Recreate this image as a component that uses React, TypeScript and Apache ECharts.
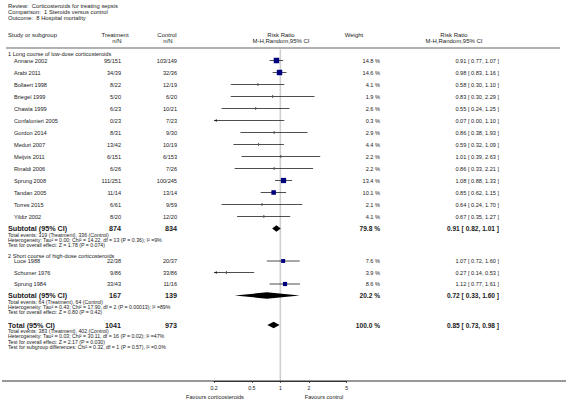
import React, { useEffect, useRef } from "react";
import * as echarts from "echarts";

// ---------- DATA ----------
const titleLines = [
  "Review:  Corticosteroids for treating sepsis",
  "Comparison:  1 Steroids versus control",
  "Outcome:  8 Hospital mortality",
];

const group1Title = "1 Long course of low-dose corticosteroids";
const group1Studies = [
  "Annane 2002", "Arabi 2011", "Bollaert 1998", "Briegel 1999", "Chawla 1999",
  "Confalonieri 2005", "Gordon 2014", "Meduri 2007", "Meijvis 2011", "Rinaldi 2006",
  "Sprung 2008", "Tandan 2005", "Torres 2015", "Yildiz 2002",
];
const group1Treatment = ["95/151", "34/39", "8/22", "5/20", "6/23", "0/23", "8/31", "13/42", "6/151", "6/26", "111/251", "11/14", "6/61", "8/20"];
const group1Control = ["103/149", "32/36", "12/19", "6/20", "10/21", "7/23", "9/30", "10/19", "6/153", "7/26", "100/245", "13/14", "9/59", "12/20"];
const group1Weight = [14.8, 14.6, 4.1, 1.9, 2.6, 0.3, 2.9, 4.4, 2.2, 2.2, 13.4, 10.1, 2.1, 4.1];
const group1RR = [0.91, 0.98, 0.58, 0.83, 0.55, 0.07, 0.86, 0.59, 1.01, 0.86, 1.08, 0.85, 0.64, 0.67];
const group1Lower = [0.77, 0.83, 0.30, 0.30, 0.24, 0.00, 0.38, 0.32, 0.39, 0.33, 0.88, 0.62, 0.24, 0.35];
const group1Upper = [1.07, 1.16, 1.10, 2.29, 1.25, 1.10, 1.93, 1.09, 2.63, 2.21, 1.33, 1.15, 1.70, 1.27];
const group1Notes = [
  "Total events: 319 (Treatment), 336 (Control)",
  "Heterogeneity: Tau\u00b2 = 0.00; Chi\u00b2 = 14.22, df = 13 (P = 0.36); I\u00b2 =9%",
  "Test for overall effect: Z = 1.78 (P = 0.074)",
];

const group2Title = "2 Short course of high-dose corticosteroids";
const group2Studies = ["Luce 1988", "Schumer 1976", "Sprung 1984"];
const group2Treatment = ["22/38", "9/86", "33/43"];
const group2Control = ["20/37", "33/86", "11/16"];
const group2Weight = [7.6, 3.9, 8.6];
const group2RR = [1.07, 0.27, 1.12];
const group2Lower = [0.72, 0.14, 0.77];
const group2Upper = [1.60, 0.53, 1.61];
const group2Notes = [
  "Total events: 64 (Treatment), 64 (Control)",
  "Heterogeneity: Tau\u00b2 = 0.43; Chi\u00b2 = 17.90, df = 2 (P = 0.00013); I\u00b2 =89%",
  "Test for overall effect: Z = 0.80 (P = 0.42)",
];

// pooled rows: subtotal 1, subtotal 2, total
const pooledLabels = ["Subtotal (95% CI)", "Subtotal (95% CI)", "Total (95% CI)"];
const pooledTreatmentN = [874, 167, 1041];
const pooledControlN = [834, 139, 973];
const pooledWeight = [79.8, 20.2, 100.0];
const pooledRR = [0.91, 0.72, 0.85];
const pooledLower = [0.82, 0.33, 0.73];
const pooledUpper = [1.01, 1.60, 0.98];

const totalNotes = [
  "Total events: 383 (Treatment), 402 (Control)",
  "Heterogeneity: Tau\u00b2 = 0.03; Chi\u00b2 = 30.11, df = 16 (P = 0.02); I\u00b2 =47%",
  "Test for overall effect: Z = 2.17 (P = 0.030)",
  "Test for subgroup differences: Chi\u00b2 = 0.32, df = 1 (P = 0.57), I\u00b2 =0.0%",
];

const axisTicks = [0.2, 0.5, 1, 2, 5];
const favoursLeft = "Favours corticosteroids";
const favoursRight = "Favours control";

// ---------- LAYOUT ----------
const W = 566;
const H = 404;
const AXIS_Y = 381;
const X_MIN = 0.2;
const X_MAX = 5;
const PLOT_LEFT = 214;
const PLOT_RIGHT = 346.7;

const FONT = "'Liberation Sans', Arial, sans-serif";
const TXT = "#1a1a1a";

const Y_TITLE = [6, 12, 18];
const Y_HEAD1 = 35;
const Y_HEAD2 = 41;
const Y_HLINE = 48;
const Y_G1_TITLE = 54;
const Y_G1_START = 60.5;
const STEP1 = 12;
const Y_SUB1 = Y_G1_START + STEP1 * group1Studies.length;
const NOTE_STEP = 5.3;
const Y_G2_TITLE = Y_SUB1 + 27;
const Y_G2_START = Y_G2_TITLE + 5.5;
const STEP2 = 11.5;
const Y_SUB2 = Y_G2_START + STEP2 * group2Studies.length;
const Y_TOTAL = Y_SUB2 + 29.5;
const pooledY = [Y_SUB1, Y_SUB2, Y_TOTAL];

const COL_NAME = 8;
const COL_STUDY = 14;
const COL_TREAT = 121;
const COL_CTRL = 177;
const COL_RRH = 281;
const COL_WEIGHT = 380;
const COL_WEIGHT_H = 354;
const COL_RR = 499;
const COL_RR_H = 454;

function fmtCI(rr: number, lo: number, hi: number) {
  return `${rr.toFixed(2)} [ ${lo.toFixed(2)}, ${hi.toFixed(2)} ]`;
}

function txt(text: string, x: number, y: number, opts: any = {}) {
  return {
    type: "text",
    x,
    y,
    silent: true,
    z: 10,
    style: {
      text,
      fill: TXT,
      fontFamily: FONT,
      fontSize: opts.fontSize ?? 5.6,
      fontWeight: opts.bold ? "bold" : "normal",
      align: opts.align ?? "left",
      verticalAlign: "middle",
    },
  };
}

function buildGraphics() {
  const g: any[] = [];
  titleLines.forEach((t, i) => g.push(txt(t, COL_NAME, Y_TITLE[i], { fontSize: 5.8 })));
  g.push(txt("Study or subgroup", COL_NAME, Y_HEAD1, { fontSize: 6 }));
  g.push(txt("Treatment", 115, Y_HEAD1, { fontSize: 6, align: "center" }));
  g.push(txt("n/N", 117, Y_HEAD2, { fontSize: 6, align: "center" }));
  g.push(txt("Control", 167, Y_HEAD1, { fontSize: 6, align: "center" }));
  g.push(txt("n/N", 168, Y_HEAD2, { fontSize: 6, align: "center" }));
  g.push(txt("Risk Ratio", COL_RRH, Y_HEAD1, { fontSize: 6, align: "center" }));
  g.push(txt("M-H,Random,95% CI", COL_RRH, Y_HEAD2, { fontSize: 6, align: "center" }));
  g.push(txt("Weight", COL_WEIGHT_H, Y_HEAD1, { fontSize: 6, align: "center" }));
  g.push(txt("Risk Ratio", COL_RR_H, Y_HEAD1, { fontSize: 6, align: "center" }));
  g.push(txt("M-H,Random,95% CI", COL_RR_H, Y_HEAD2, { fontSize: 6, align: "center" }));
  g.push({
    type: "line",
    silent: true,
    z: 10,
    shape: { x1: 6, y1: Y_HLINE, x2: 560, y2: Y_HLINE },
    style: { stroke: "#999", lineWidth: 1.6 },
  });

  const studyRows = (
    names: string[], tr: string[], ct: string[], w: number[], rr: number[], lo: number[], hi: number[],
    y0: number, step: number
  ) => {
    names.forEach((n, i) => {
      const y = y0 + step * i;
      g.push(txt(n, COL_STUDY, y));
      g.push(txt(tr[i], COL_TREAT, y, { align: "right" }));
      g.push(txt(ct[i], COL_CTRL, y, { align: "right" }));
      g.push(txt(`${w[i].toFixed(1)} %`, COL_WEIGHT, y, { align: "right" }));
      g.push(txt(fmtCI(rr[i], lo[i], hi[i]), COL_RR, y, { align: "right" }));
    });
  };

  g.push(txt(group1Title, COL_NAME, Y_G1_TITLE));
  studyRows(group1Studies, group1Treatment, group1Control, group1Weight, group1RR, group1Lower, group1Upper, Y_G1_START, STEP1);
  g.push(txt(group2Title, COL_NAME, Y_G2_TITLE));
  studyRows(group2Studies, group2Treatment, group2Control, group2Weight, group2RR, group2Lower, group2Upper, Y_G2_START, STEP2);

  pooledLabels.forEach((l, i) => {
    const y = pooledY[i];
    g.push(txt(l, COL_NAME, y, { bold: true, fontSize: 7.2 }));
    g.push(txt(String(pooledTreatmentN[i]), COL_TREAT, y, { bold: true, fontSize: 7.2, align: "right" }));
    g.push(txt(String(pooledControlN[i]), COL_CTRL, y, { bold: true, fontSize: 7.2, align: "right" }));
    g.push(txt(`${pooledWeight[i].toFixed(1)} %`, COL_WEIGHT, y, { bold: true, fontSize: 6.6, align: "right" }));
    g.push(txt(fmtCI(pooledRR[i], pooledLower[i], pooledUpper[i]), COL_RR, y, { bold: true, fontSize: 6.6, align: "right" }));
  });

  const notes = (arr: string[], y0: number) =>
    arr.forEach((t, i) => g.push(txt(t, COL_NAME, y0 + 6 + NOTE_STEP * i, { fontSize: 5.2 })));
  notes(group1Notes, Y_SUB1);
  notes(group2Notes, Y_SUB2);
  notes(totalNotes, Y_TOTAL);

  g.push(txt(favoursLeft, 215, 397, { fontSize: 5.6, align: "center" }));
  g.push(txt(favoursRight, 324, 397, { fontSize: 5.6, align: "center" }));
  return g;
}

export default function App() {
  const ref = useRef<HTMLDivElement>(null);
  useEffect(() => {
    if (!ref.current) return;
    const chart = echarts.init(ref.current, null, { renderer: "svg" });

    const studyData: number[][] = [];
    group1Studies.forEach((_, i) =>
      studyData.push([group1RR[i], group1Lower[i], group1Upper[i], Y_G1_START + STEP1 * i, group1Weight[i]])
    );
    group2Studies.forEach((_, i) =>
      studyData.push([group2RR[i], group2Lower[i], group2Upper[i], Y_G2_START + STEP2 * i, group2Weight[i]])
    );
    const diamondData = pooledRR.map((r, i) => [r, pooledLower[i], pooledUpper[i], pooledY[i]]);

    const option: any = {
      animation: false,
      backgroundColor: "#fff",
      grid: {
        left: PLOT_LEFT,
        right: W - PLOT_RIGHT,
        top: 0,
        bottom: H - AXIS_Y,
        containLabel: false,
      },
      xAxis: {
        type: "log",
        logBase: 10,
        min: X_MIN,
        max: X_MAX,
        axisLine: { show: true, onZero: false, lineStyle: { color: "#333", width: 1 } },
        splitLine: { show: false },
        axisTick: { show: true, length: 2, customValues: axisTicks, lineStyle: { color: "#333", width: 0.8 } },
        axisLabel: {
          customValues: axisTicks,
          fontSize: 5.2,
          color: TXT,
          fontFamily: FONT,
          margin: 4,
          formatter: (v: number) => String(Number(v.toPrecision(3))),
        },
      },
      yAxis: {
        type: "value",
        min: 0,
        max: AXIS_Y,
        inverse: true,
        show: false,
      },
      series: [
        {
          type: "custom",
          name: "frame",
          coordinateSystem: "cartesian2d",
          silent: true,
          clip: false,
          data: [[1, Y_HLINE + 1.5, AXIS_Y]],
          encode: { x: 0, y: [1, 2] },
          renderItem: (params: any, api: any) => {
            const a = api.coord([api.value(0), api.value(1)]);
            const b = api.coord([api.value(0), api.value(2)]);
            return {
              type: "group",
              children: [
                {
                  type: "line",
                  shape: { x1: a[0], y1: a[1], x2: b[0], y2: b[1] },
                  style: { stroke: "#cfcfcf", lineWidth: 1.6 },
                },
                {
                  type: "line",
                  shape: { x1: 2, y1: b[1], x2: W, y2: b[1] },
                  style: { stroke: "#333", lineWidth: 1.1 },
                },
              ],
            };
          },
          z: 1,
        },
        {
          type: "custom",
          name: "studies",
          coordinateSystem: "cartesian2d",
          silent: true,
          data: studyData,
          encode: { x: [0, 1, 2], y: 3 },
          renderItem: (params: any, api: any) => {
            const rr = api.value(0);
            const lo = api.value(1);
            const hi = api.value(2);
            const y = api.value(3);
            const w = api.value(4);
            const loC = Math.max(lo, X_MIN);
            const hiC = Math.min(hi, X_MAX);
            const pL = api.coord([loC, y]);
            const pH = api.coord([hiC, y]);
            const children: any[] = [
              {
                type: "line",
                shape: { x1: pL[0], y1: pL[1], x2: pH[0], y2: pH[1] },
                style: { stroke: "#222", lineWidth: 0.8 },
              },
            ];
            if (lo < X_MIN) {
              children.push({
                type: "polygon",
                shape: { points: [[pL[0], pL[1]], [pL[0] + 3, pL[1] - 1.3], [pL[0] + 3, pL[1] + 1.3]] },
                style: { fill: "#222" },
              });
            }
            if (hi > X_MAX) {
              children.push({
                type: "polygon",
                shape: { points: [[pH[0], pH[1]], [pH[0] - 3, pH[1] - 1.3], [pH[0] - 3, pH[1] + 1.3]] },
                style: { fill: "#222" },
              });
            }
            if (rr >= X_MIN && rr <= X_MAX) {
              const c = api.coord([rr, y]);
              const s = Math.max(1.2, 5.5 * Math.sqrt(w / 14.8));
              const big = w >= 5;
              children.push({
                type: "rect",
                shape: big
                  ? { x: c[0] - s / 2, y: c[1] - s / 2, width: s, height: s }
                  : { x: c[0] - 0.5, y: c[1] - 1.5, width: 1, height: 3 },
                style: { fill: big ? "#00007f" : "#555" },
              });
            }
            return { type: "group", children };
          },
          z: 3,
        },
        {
          type: "custom",
          name: "pooled",
          coordinateSystem: "cartesian2d",
          silent: true,
          data: diamondData,
          encode: { x: [0, 1, 2], y: 3 },
          renderItem: (params: any, api: any) => {
            const y = api.value(3);
            const pL = api.coord([api.value(1), y]);
            const pC = api.coord([api.value(0), y]);
            const pH = api.coord([api.value(2), y]);
            const h = 3.2;
            return {
              type: "polygon",
              shape: {
                points: [[pL[0], pL[1]], [pC[0], pC[1] - h], [pH[0], pH[1]], [pC[0], pC[1] + h]],
              },
              style: { fill: "#000" },
            };
          },
          z: 3,
        },
      ],
      graphic: buildGraphics(),
    };
    chart.setOption(option);
    return () => chart.dispose();
  }, []);

  return (
    <div
      ref={ref}
      style={{ position: "absolute", left: 0, top: 0, width: W, height: H, background: "#fff" }}
    />
  );
}
